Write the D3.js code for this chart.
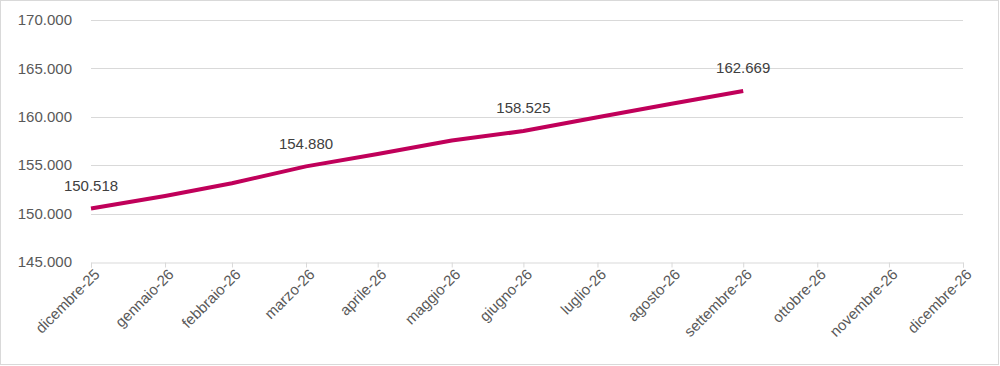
<!DOCTYPE html>
<html>
<head>
<meta charset="utf-8">
<script src="https://cdn.jsdelivr.net/npm/d3@7"></script>
<style>
  html, body { margin: 0; padding: 0; background: #fff; }
  svg { display: block; font-family: "Liberation Sans", Arial, sans-serif; }
</style>
</head>
<body>
<svg id="chart" width="1000" height="366"></svg>
<script>
// ---- Data ----
const tickDates = ["2025-12-31","2026-01-31","2026-02-28","2026-03-31","2026-04-30","2026-05-31",
                   "2026-06-30","2026-07-31","2026-08-31","2026-09-30","2026-10-31","2026-11-30","2026-12-31"];
const tickLabels = ["dicembre-25","gennaio-26","febbraio-26","marzo-26","aprile-26","maggio-26",
                    "giugno-26","luglio-26","agosto-26","settembre-26","ottobre-26","novembre-26","dicembre-26"];
const seriesDates = tickDates.slice(0, 10);
const seriesValues = [150518, 151820, 153130, 154880, 156150, 157550, 158525, 159950, 161350, 162669];
const labelledIndex = [0, 3, 6, 9];
const yTicks = [145000, 150000, 155000, 160000, 165000, 170000];

// ---- Chart ----
const svg = d3.select("#chart");
const parse = d3.utcParse("%Y-%m-%d");
const fmt = v => d3.format(",.0f")(v).replace(/,/g, ".");

svg.append("rect").attr("x", 0.5).attr("y", 0.5).attr("width", 998).attr("height", 364)
  .attr("fill", "#fff").attr("stroke", "#d9d9d9");

const x = d3.scaleUtc().domain([parse(tickDates[0]), parse(tickDates[tickDates.length - 1])]).range([91, 963]);
const y = d3.scaleLinear().domain([145000, 170000]).range([262, 20]);

// gridlines
svg.append("g").selectAll("line").data(yTicks.slice(1)).join("line")
  .attr("x1", 91).attr("x2", 963)
  .attr("y1", d => Math.round(y(d)) + 0.5).attr("y2", d => Math.round(y(d)) + 0.5)
  .attr("stroke", "#d9d9d9").attr("stroke-width", 1);

// y axis labels
svg.append("g").selectAll("text").data(yTicks).join("text")
  .attr("x", 72).attr("y", d => y(d)).attr("dy", "0.35em")
  .attr("text-anchor", "end").attr("fill", "#595959").attr("font-size", 15)
  .text(fmt);

// x axis
const xAxis = d3.axisBottom(x)
  .tickValues(tickDates.map(parse))
  .tickFormat((d, i) => tickLabels[i])
  .tickSizeOuter(0).tickSize(5).tickPadding(4);
const gx = svg.append("g").attr("transform", "translate(0," + (Math.round(y(145000)) + 0.5) + ")").call(xAxis);
gx.select(".domain").attr("stroke", "#d9d9d9");
gx.selectAll(".tick line").attr("stroke", "#d9d9d9");
gx.selectAll(".tick text")
  .attr("fill", "#595959").attr("font-size", 15)
  .attr("font-family", "'Liberation Sans', Arial, sans-serif")
  .attr("text-anchor", "end")
  .attr("transform", "translate(4,2) rotate(-45)")
  .attr("dy", "0.35em").attr("y", 6).attr("x", -4);

// line
const pts = seriesDates.map((d, i) => ({ date: parse(d), value: seriesValues[i] }));
svg.append("path").datum(pts)
  .attr("fill", "none").attr("stroke", "#c0005a").attr("stroke-width", 4)
  .attr("stroke-linejoin", "round")
  .attr("d", d3.line().x(d => x(d.date)).y(d => y(d.value)));

// data labels
svg.append("g").selectAll("text").data(labelledIndex.map(i => pts[i])).join("text")
  .attr("x", d => x(d.date)).attr("y", d => y(d.value) - 23).attr("dy", "0.35em")
  .attr("text-anchor", "middle").attr("fill", "#404040").attr("font-size", 15)
  .text(d => fmt(d.value));
</script>
</body>
</html>
